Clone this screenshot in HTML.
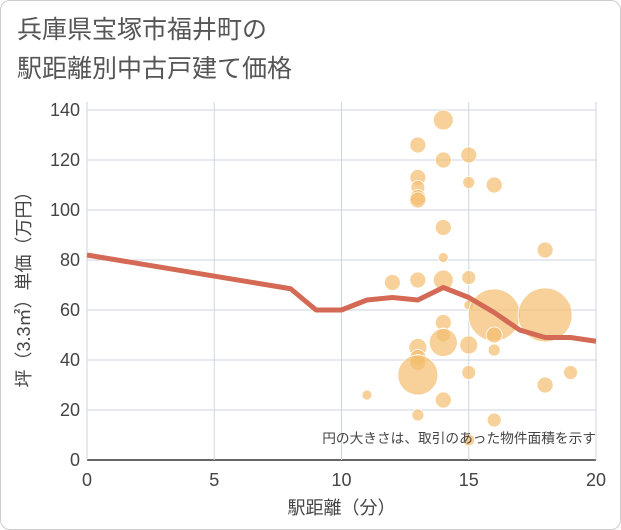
<!DOCTYPE html>
<html><head><meta charset="utf-8"><style>
body{margin:0;background:#fff;font-family:"Liberation Sans","Noto Sans CJK JP",sans-serif;}
#wrap{position:relative;width:621px;height:530px;overflow:hidden}
#card{position:absolute;left:0;top:0;width:619px;height:528px;border:1px solid #ccc;border-radius:10px}
.title{position:absolute;left:17px;font-size:25px;color:#555;line-height:30px}
</style></head><body>
<div id="wrap">
<div id="card"></div>
<div class="title" style="top:15px">兵庫県宝塚市福井町の</div>
<div class="title" style="top:54px">駅距離別中古戸建て価格</div>
<svg id="chart" width="621" height="530" style="position:absolute;left:0;top:0"></svg>
</div>
<script>
const xTicks=[0,5,10,15,20];
const yTicks=[0,20,40,60,80,100,120,140];
const bubbleX=[11,12,13,13,13,13,13,13,13,13,13,13,13,14,14,14,14,14,14,14,14,14,15,15,15,15,15,15,15,16,16,16,16,16,18,18,18,19];
const bubbleY=[26,71,126,113,109,105,104,72,45,41,39,34,18,136,120,93,81,72,55,50,47,24,122,111,73,62,46,35,8,110,58,50,44,16,84,58,30,35];
const bubbleR=[5,8,8,8,7,8,8,8,9,8,8,20,6,10,8,8,5,10,8,7,14,8,8,6,7,5,9,7,6,8,26,8,6,7,8,27,8,7];
const lineX=[0,8,9,10,11,12,13,14,15,16,17,18,19,20];
const lineY=[82,68.5,60,60,64,65,64,69,65,59,52,49,49,47.5];
const NS="http://www.w3.org/2000/svg";
const svg=document.getElementById('chart');
const X0=87,X1=596,Y0=460,Y1=110;
const sx=v=>X0+(v/20)*(X1-X0);
const sy=v=>Y0-(v/140)*(Y0-Y1);
function mk(t,a){const e=document.createElementNS(NS,t);for(const k in a)e.setAttribute(k,a[k]);svg.appendChild(e);return e;}
yTicks.forEach(v=>{
 const l=mk('line',{x1:X0,x2:X1,y1:sy(v),y2:sy(v),stroke:v===0?'#333':'#ccd6e0','stroke-width':v===0?1.5:1});
 
 
 const t=mk('text',{x:X0-7,y:sy(v)+6,'text-anchor':'end','font-size':18,fill:'#444'});
 t.textContent=v;
 
 
});
xTicks.forEach(v=>{
 const l=mk('line',{x1:sx(v),x2:sx(v),y1:Y1-8,y2:Y0,stroke:'#ccd6e0','stroke-width':1});
 
 
 const t=mk('text',{x:sx(v),y:Y0+26,'text-anchor':'middle','font-size':18,fill:'#444'});
 t.textContent=v;
 
 
});
bubbleX.forEach((v,i)=>{
 const c=mk('circle',{cx:sx(v),cy:sy(bubbleY[i]),r:bubbleR[i],fill:'rgba(243,190,110,0.7)',stroke:'#fff','stroke-width':0.8});
 
 
});
const p=mk('polyline',{points:lineX.map((v,i)=>sx(v)+','+sy(lineY[i])).join(' '),fill:'none',stroke:'#d46a55','stroke-width':5,'stroke-linejoin':'round'});


const note=mk('text',{x:596,y:443,'text-anchor':'end','font-size':13.7,fill:'#444'});
note.textContent='円の大きさは、取引のあった物件面積を示す';


const xt=mk('text',{x:(X0+X1)/2,y:514,'text-anchor':'middle','font-size':18,fill:'#444'});
xt.textContent='駅距離（分）';


const yt=mk('text',{x:0,y:0,'text-anchor':'middle','font-size':18,fill:'#444',transform:'translate(30,285) rotate(-90)'});
yt.textContent='坪（3.3㎡）単価（万円）';


</script>
</body></html>
